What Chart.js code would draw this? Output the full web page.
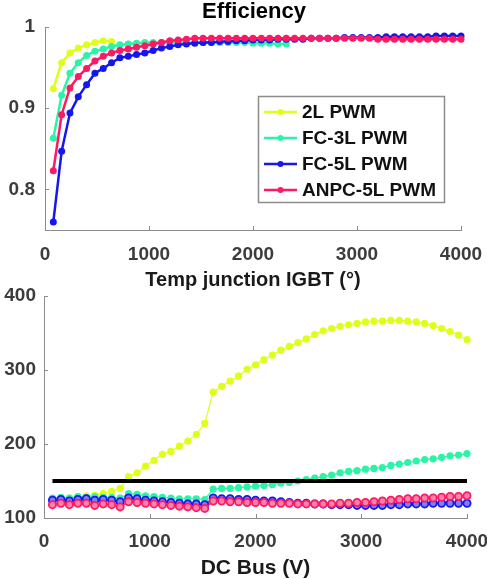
<!DOCTYPE html>
<html>
<head>
<meta charset="utf-8">
<script src="https://cdn.jsdelivr.net/npm/chart.js@4.4.1/dist/chart.umd.min.js"></script>
<style>
  body { margin: 0; background: #fff; }
  #wrap { position: relative; width: 487px; height: 579px; overflow: hidden; }
  canvas { position: absolute; left: 0; }
  #effChart { top: 0; }
  #tempChart { top: 285px; }
</style>
</head>
<body>
<div id="wrap">
  <canvas id="effChart" width="487" height="295"></canvas>
  <canvas id="tempChart" width="487" height="294"></canvas>
</div>
<script>
// x values (same grid for both plots)
const xs = [80,160,240,320,400,480,560,640,720,800,880,960,1040,1120,1200,1280,1360,1440,1520,1600,
            1680,1760,1840,1920,2000,2080,2160,2240,2320,2400,2480,2560,2640,2720,2800,2880,2960,3040,3120,3200,
            3280,3360,3440,3520,3600,3680,3760,3840,3920,4000];

const labels = ['2L PWM', 'FC-3L PWM', 'FC-5L PWM', 'ANPC-5L PWM'];
const colors = ['#dfff1a', '#2cf4a6', '#1616ee', '#fb1a63'];

// top plot: efficiency
const eff2L = [0.924,0.956,0.968,0.974,0.978,0.981,0.983,0.982];
const effFC3 = [0.863,0.916,0.943,0.956,0.965,0.970,0.973,0.976,0.978,0.979,
                0.980,0.981,0.981,0.981,0.981,0.981,0.981,0.981,0.981,0.981,
                0.981,0.981,0.981,0.981,0.980,0.980,0.980,0.979,0.979];
const effFC5 = [0.760,0.847,0.894,0.914,0.929,0.943,0.949,0.956,0.962,0.964,
                0.966,0.968,0.971,0.974,0.976,0.978,0.979,0.980,0.981,0.981,
                0.982,0.982,0.983,0.983,0.984,0.984,0.984,0.985,0.985,0.985,
                0.985,0.986,0.986,0.986,0.986,0.987,0.987,0.987,0.987,0.987,
                0.988,0.988,0.988,0.988,0.988,0.988,0.989,0.989,0.989,0.989];
const effANPC = [0.823,0.892,0.925,0.939,0.949,0.958,0.964,0.968,0.971,0.973,
                 0.975,0.977,0.979,0.981,0.983,0.984,0.985,0.986,0.986,0.986,
                 0.986,0.986,0.986,0.986,0.986,0.986,0.986,0.986,0.986,0.986,
                 0.986,0.986,0.986,0.986,0.986,0.986,0.986,0.986,0.986,0.985,
                 0.985,0.985,0.985,0.985,0.985,0.985,0.985,0.985,0.985,0.985];

// bottom plot: junction temperature
const temp2L = [124,126,127,129,130,131,133,136,140,
                156,161,170,178,186,190,197,204,213,228,
                270,278,285,292,301,307,314,320,327,332,337,342,348,353,356,359,361,363,365,366,366,367,
                367,366,365,363,360,356,352,347,341];
const tempFC3 = [127,128,127,129,128,129,128,128,127,
                 133,132,130,129,128,127,126,126,126,125,
                 139,140,140,141,142,143,144,145,147,148,150,152,154,156,158,161,163,164,166,167,
                 168,171,173,175,177,179,180,182,184,185,187];
const tempFC5 = [124,125,123,125,126,124,125,124,122,
                 127,126,124,123,122,121,120,119,119,118,
                 127,126,126,125,125,124,123,123,122,121,120,120,119,119,118,118,118,117,117,117,
                 117,118,118,119,119,119,120,120,120,120,120];
const tempANPC = [118,120,118,120,120,117,119,118,115,
                  122,121,120,119,118,117,116,115,114,113,
                  123,123,122,122,121,121,121,120,120,120,119,119,119,119,119,120,120,121,121,122,
                  123,124,125,126,126,127,127,128,129,129,130];
const limitX = [80, 4000];
const limitTemp = 150;

const xTicks = [0, 1000, 2000, 3000, 4000];
const effTicks = [0.8, 0.9, 1];
const tempTicks = [100, 200, 300, 400];

const FONT = 'Liberation Sans, Arial, Helvetica, sans-serif';
const axisColor = '#8c8c8c';
const tickColor = '#3c3c3c';

function pts(ys) {
    return ys.map((y, i) => ({ x: xs[i], y: y }));
}

function lightColor(hex) {
    const n = parseInt(hex.slice(1), 16);
    const r = (n >> 16) & 255, g = (n >> 8) & 255, b = n & 255;
    const mix = c => Math.round(c + (255 - c) * 0.45);
    return `rgb(${mix(r)},${mix(g)},${mix(b)})`;
}

// MATLAB style ticks pointing into the plot
const inwardTicks = {
    id: 'inwardTicks',
    beforeDatasetsDraw(chart) {
        const { ctx, chartArea, scales } = chart;
        ctx.save();
        ctx.strokeStyle = axisColor;
        ctx.lineWidth = 1;
        scales.x.ticks.forEach(t => {
            const px = Math.round(scales.x.getPixelForValue(t.value)) + 0.5;
            ctx.beginPath();
            ctx.moveTo(px, chartArea.bottom);
            ctx.lineTo(px, chartArea.bottom - 4);
            ctx.stroke();
        });
        scales.y.ticks.forEach(t => {
            const py = Math.round(scales.y.getPixelForValue(t.value)) + 0.5;
            ctx.beginPath();
            ctx.moveTo(chartArea.left, py);
            ctx.lineTo(chartArea.left + 4, py);
            ctx.stroke();
        });
        ctx.restore();
    }
};

// title + boxed legend for the top plot
const effDecor = {
    id: 'effDecor',
    afterDraw(chart) {
        const ctx = chart.ctx;
        ctx.save();
        ctx.fillStyle = '#000';
        ctx.font = 'bold 22px ' + FONT;
        ctx.textAlign = 'center';
        ctx.textBaseline = 'alphabetic';
        ctx.fillText('Efficiency', 254, 18);

        ctx.fillStyle = '#fff';
        ctx.fillRect(258, 96, 187, 107);
        ctx.strokeStyle = '#8c8c8c';
        ctx.lineWidth = 1.5;
        ctx.strokeRect(258.5, 96.5, 186, 106);

        ctx.font = 'bold 19px ' + FONT;
        ctx.textAlign = 'left';
        ctx.textBaseline = 'middle';
        chart.data.datasets.forEach((ds, i) => {
            const y = 112 + i * 26;
            ctx.strokeStyle = ds.borderColor;
            ctx.lineWidth = 2.5;
            ctx.beginPath();
            ctx.moveTo(264, y);
            ctx.lineTo(297, y);
            ctx.stroke();
            ctx.fillStyle = ds.borderColor;
            ctx.beginPath();
            ctx.arc(280.5, y, 3, 0, Math.PI * 2);
            ctx.fill();
            ctx.fillStyle = '#111';
            ctx.fillText(ds.label, 302, y + 1);
        });
        ctx.restore();
    }
};

function xScale(title, titleSize, height, pad, titlePadBottom) {
    return {
        type: 'linear', min: 0, max: 4000,
        grid: { display: false, drawTicks: false },
        border: { display: true, color: axisColor, width: 1 },
        ticks: {
            padding: pad, color: tickColor, maxRotation: 0,
            font: { family: FONT, size: 19, weight: 'bold' },
            callback: v => String(v)
        },
        afterBuildTicks: s => { s.ticks = xTicks.map(v => ({ value: v })); },
        afterFit: s => { s.height = height; s.paddingLeft = 0; s.paddingRight = 0; },
        title: {
            display: true, text: title, color: '#1a1a1a',
            font: { family: FONT, size: titleSize, weight: 'bold', lineHeight: 1.2 },
            padding: { top: 0, bottom: titlePadBottom }
        }
    };
}

function yScale(min, max, ticks, width, pad) {
    return {
        type: 'linear', min: min, max: max,
        grid: { display: false, drawTicks: false },
        border: { display: true, color: axisColor, width: 1 },
        ticks: {
            padding: pad, color: tickColor,
            font: { family: FONT, size: 19, weight: 'bold' },
            callback: v => String(v)
        },
        afterBuildTicks: s => { s.ticks = ticks.map(v => ({ value: v })); },
        afterFit: s => { s.width = width; s.paddingTop = 0; s.paddingBottom = 0; }
    };
}

// top chart
const effSeries = [eff2L, effFC3, effFC5, effANPC];
new Chart(document.getElementById('effChart'), {
    type: 'line',
    data: {
        datasets: effSeries.map((ys, i) => ({
            label: labels[i],
            data: pts(ys),
            borderColor: colors[i],
            backgroundColor: colors[i],
            borderWidth: 2.5,
            pointRadius: 3.5,
            pointBorderWidth: 0,
            pointBackgroundColor: colors[i],
            tension: 0,
            clip: false,
            order: 3 - i
        }))
    },
    options: {
        responsive: false,
        animation: false,
        devicePixelRatio: 1,
        layout: { padding: { left: 0, right: 26, top: 27, bottom: 0 } },
        plugins: { legend: { display: false }, tooltip: { enabled: false }, title: { display: false } },
        scales: {
            x: xScale('Temp junction IGBT (°)', 20, 65, 13, 3),
            y: yScale(0.75, 1, effTicks, 45, 10)
        }
    },
    plugins: [inwardTicks, effDecor]
});

// bottom chart
const tempSeries = [temp2L, tempFC3, tempFC5, tempANPC];
const tempSets = tempSeries.map((ys, i) => ({
    label: labels[i],
    data: pts(ys),
    borderColor: colors[i],
    backgroundColor: colors[i],
    borderWidth: 1.2,
    pointRadius: 3.6,
    pointBorderWidth: i >= 2 ? 1.8 : 0,
    pointBorderColor: colors[i],
    pointBackgroundColor: i >= 2 ? lightColor(colors[i]) : colors[i],
    tension: 0,
    clip: false,
    order: 4 - i
}));
tempSets.push({
    label: 'limit',
    data: limitX.map(x => ({ x: x, y: limitTemp })),
    borderColor: '#000',
    borderWidth: 4,
    pointRadius: 0,
    clip: false,
    order: 0
});

new Chart(document.getElementById('tempChart'), {
    type: 'line',
    data: { datasets: tempSets },
    options: {
        responsive: false,
        animation: false,
        devicePixelRatio: 1,
        layout: { padding: { left: 0, right: 20, top: 11, bottom: 0 } },
        plugins: { legend: { display: false }, tooltip: { enabled: false }, title: { display: false } },
        scales: {
            x: xScale('DC Bus (V)', 21, 61, 12, -2),
            y: yScale(100, 400, tempTicks, 44, 8)
        }
    },
    plugins: [inwardTicks]
});
</script>
</body>
</html>
